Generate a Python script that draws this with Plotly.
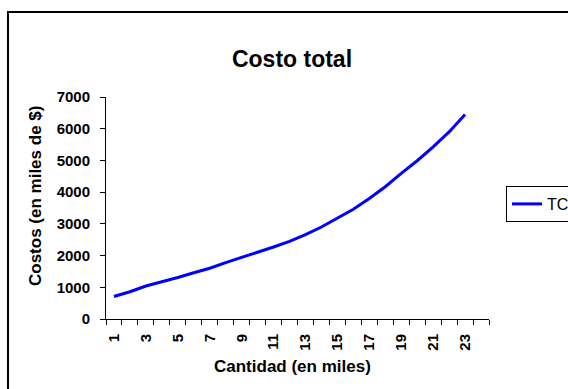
import plotly.graph_objects as go

# Total cost (thousands of $) for each quantity (thousands of units)
cantidad = list(range(1, 24))
costo_total = [710, 860, 1040, 1170, 1310, 1460, 1600, 1780, 1940, 2100,
               2270, 2450, 2660, 2900, 3170, 3460, 3800, 4170, 4590, 4990,
               5430, 5900, 6450]
x_tick_values = list(range(1, 24, 2))
y_tick_values = list(range(0, 7001, 1000))

W, H = 568, 389
L, R, T, B = 106, 489, 97, 319  # plot-area edges in pixels

def px_x(p):
    return (p - L) / (R - L)

def px_y(p):
    return (B - p) / (B - T)

font_family = "Liberation Sans, Arial, sans-serif"

fig = go.Figure()
fig.add_trace(go.Scatter(
    x=cantidad, y=costo_total, mode="lines", name="TC",
    line=dict(color="#0000FF", width=3),
))

fig.update_layout(
    width=W, height=H,
    margin=dict(l=L, r=W - R, t=T, b=H - B, autoexpand=False),
    paper_bgcolor="white", plot_bgcolor="white",
    font=dict(family=font_family, color="black"),
    title=dict(text="<b>Costo total</b>", x=px_x(292), xref="paper",
               xanchor="center", y=1 - 59 / H, yanchor="middle",
               font=dict(size=23, family=font_family)),
    showlegend=True,
    legend=dict(xref="container", yref="container",
                x=506 / W, y=1 - 204 / H, xanchor="left", yanchor="middle",
                bgcolor="white", bordercolor="black", borderwidth=1,
                font=dict(size=16, family=font_family),
                itemwidth=30, tracegroupgap=0),
    xaxis=dict(
        range=[0.5, 24.5], showgrid=False, zeroline=False,
        showline=True, linecolor="black", linewidth=1,
        tickvals=x_tick_values, ticktext=[f"<b>{v}</b>" for v in x_tick_values],
        ticks="outside", ticklen=0, tickangle=-90, ticklabelstandoff=8,
        tickfont=dict(size=15, family=font_family),
        minor=dict(tick0=0.5, dtick=1, ticks="outside", ticklen=5,
                   tickcolor="black", showgrid=False),
    ),
    yaxis=dict(
        range=[0, 7000], showgrid=False, zeroline=False,
        showline=True, linecolor="black", linewidth=1,
        tickvals=y_tick_values, ticktext=[f"<b>{v}</b>" for v in y_tick_values],
        ticks="outside", ticklen=5, tickcolor="black", ticklabelstandoff=7,
        tickfont=dict(size=15, family=font_family),
    ),
    annotations=[
        dict(text="<b>Cantidad (en miles)</b>", xref="paper", yref="paper",
             x=px_x(292), y=px_y(366), xanchor="center", yanchor="middle",
             showarrow=False, font=dict(size=17, family=font_family)),
        dict(text="<b>Costos (en miles de $)</b>", xref="paper", yref="paper",
             x=px_x(35), y=px_y(196), xanchor="center", yanchor="middle",
             textangle=-90, showarrow=False,
             font=dict(size=17, family=font_family)),
    ],
    shapes=[dict(type="rect", xref="paper", yref="paper",
                 x0=px_x(8), x1=px_x(W + 10), y0=px_y(H + 10), y1=px_y(12),
                 line=dict(color="black", width=2), fillcolor="rgba(0,0,0,0)",
                 layer="above")],
)

fig.write_html("out.html")
